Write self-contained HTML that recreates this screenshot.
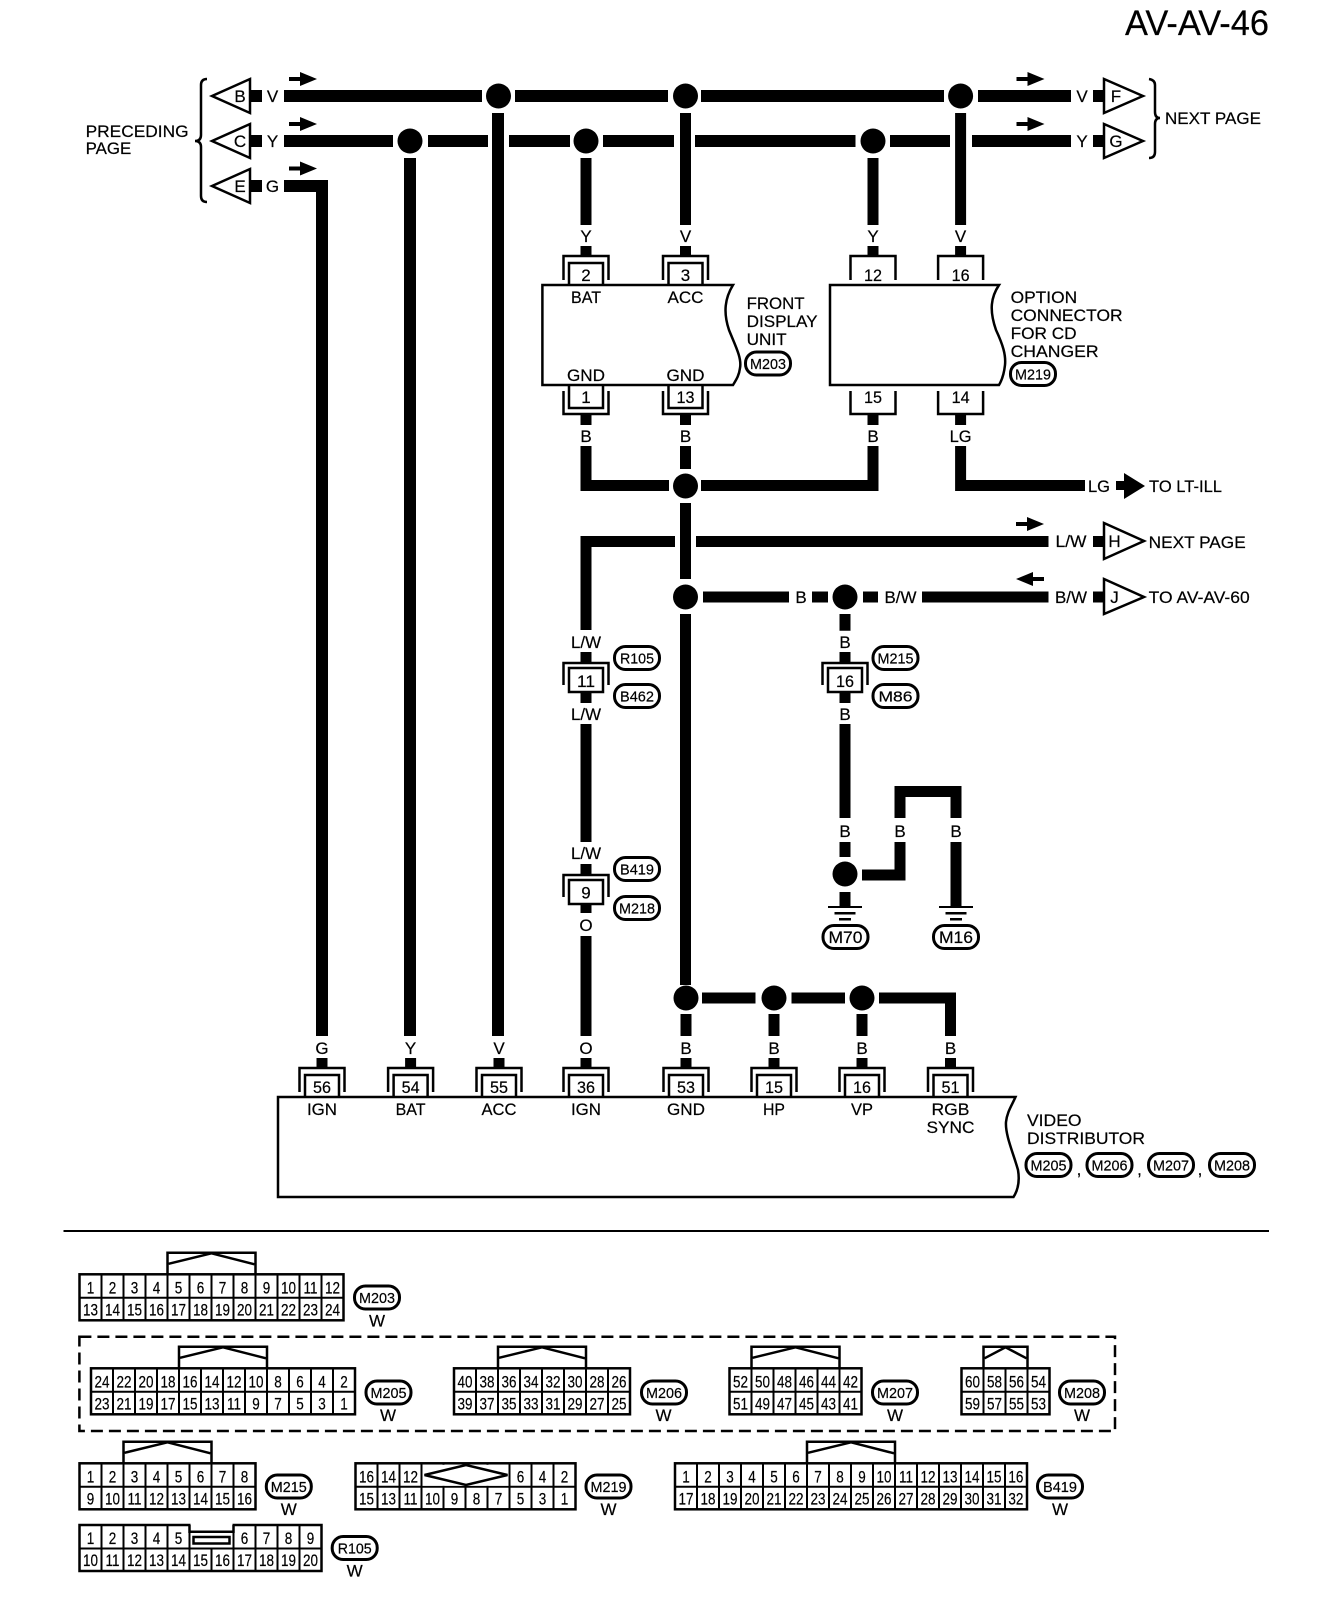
<!DOCTYPE html>
<html><head><meta charset="utf-8"><style>
html,body{margin:0;padding:0;background:#fff}
svg{display:block}
text{font-family:"Liberation Sans",sans-serif;font-size:17px;fill:#000;stroke:#000;stroke-width:.2}
.c{text-anchor:middle}
.n text{text-anchor:middle}
.p text{text-anchor:middle;font-size:15px}
.w{fill:none;stroke:#000;stroke-width:11}
.l{fill:none;stroke:#000;stroke-width:2.5}
.k{fill:#000;stroke:none}
.tri{fill:#fff;stroke:#000;stroke-width:2.5}
.box{fill:none;stroke:#000;stroke-width:2.5}
.pb{fill:none;stroke:#000;stroke-width:3}
.bars{stroke:#000;stroke-width:46;stroke-dasharray:2 20;stroke-dashoffset:1}
</style></head><body>
<svg width="1328" height="1612" viewBox="0 0 1328 1612" xmlns="http://www.w3.org/2000/svg">
<defs>
<g id="ct"><path class="l" d="M-22.5,24V0H22.5V24"/><path class="l" d="M-17,29V7H17V29"/></g>
<g id="cb"><path class="l" d="M-17,0V23H17V0"/><path class="l" d="M-22.5,6V29H22.5V6"/></g>
<g id="st"><path class="l" d="M-22.5,24V0H22.5V24"/></g>
<g id="sb"><path class="l" d="M-22.5,6V29H22.5V6"/></g>
<g id="ci"><path class="l" d="M-22.5,22V0H22.5V22"/><rect class="box" x="-17" y="5" width="34" height="24"/></g>
<g id="ar"><rect class="k" x="0" y="-2" width="14" height="4"/><polygon class="k" points="11,-7 28,0 11,7"/></g>
<g id="al"><rect class="k" x="14" y="-2" width="14" height="4"/><polygon class="k" points="17,-7 0,0 17,7"/></g>
<g id="gr"><rect class="k" x="-17" y="-1" width="34" height="2"/><rect class="k" x="-10.5" y="5" width="21" height="2.5"/><rect class="k" x="-6" y="11" width="12" height="2.5"/></g>
<g id="tab"><path class="l" d="M0,0V-21.6H88V0"/><path class="l" d="M1,-10.5L44,-21M44,-21L87,-10"/></g>
<g id="pil"><rect class="pb" x="-22.5" y="-11.5" width="45" height="23" rx="11" ry="11"/></g>
</defs>

<text x="1197" y="35" class="c" style="font-size:35px" textLength="144" lengthAdjust="spacingAndGlyphs">AV-AV-46</text>

<!-- left side -->
<text x="85.6" y="137" textLength="103" lengthAdjust="spacingAndGlyphs">PRECEDING</text>
<text x="85.6" y="154" textLength="45.6" lengthAdjust="spacingAndGlyphs">PAGE</text>
<path class="l" d="M207,79Q201,79 201,85V135Q201,141 195,141Q201,141 201,147V196Q201,202 207,202"/>
<polygon class="tri" points="212,96 250,79 250,113"/>
<polygon class="tri" points="212,141 250,124 250,158"/>
<polygon class="tri" points="212,186 250,169 250,203"/>
<text x="240" y="102" class="c">B</text><text x="240" y="147" class="c">C</text><text x="240" y="192" class="c">E</text>
<rect class="k" x="251" y="90" width="11" height="12"/><rect class="k" x="251" y="135" width="11" height="12"/><rect class="k" x="251" y="180" width="11" height="12"/>
<text x="272.5" y="102" class="c">V</text><text x="272.5" y="147" class="c">Y</text><text x="272.5" y="192" class="c">G</text>
<use href="#ar" x="289" y="79"/><use href="#ar" x="289" y="124"/><use href="#ar" x="289" y="168.5"/>

<!-- top rails -->
<g style="stroke:#000;stroke-width:12;fill:none">
<path d="M284,96H482M515,96H668M701,96H944M978,96H1071"/>
<path d="M284,141H393M428,141H488M509,141H570M603,141H674M695,141H855.5M890,141H950M972,141H1071"/>
<path d="M284,186H322V1036"/>
<path d="M410,158V1036"/>
<path d="M498,113V1036"/>
</g>
<g class="k">
<circle cx="498.5" cy="96" r="12.5"/><circle cx="685.5" cy="96" r="12.5"/><circle cx="960.6" cy="96" r="12.5"/>
<circle cx="410" cy="141" r="12.5"/><circle cx="586" cy="141" r="12.5"/><circle cx="873" cy="141" r="12.5"/>
<circle cx="685.5" cy="486" r="12.5"/><circle cx="685.5" cy="597" r="12.5"/><circle cx="845" cy="597" r="12.5"/><circle cx="845" cy="874" r="12.5"/>
<circle cx="686" cy="998" r="12.5"/><circle cx="774" cy="998" r="12.5"/><circle cx="862" cy="998" r="12.5"/>
</g>
<use href="#ar" x="1016.5" y="79"/><use href="#ar" x="1016.5" y="124"/>
<text x="1082" y="102" class="c">V</text><text x="1082" y="147" class="c">Y</text>
<rect class="k" x="1093" y="90" width="11" height="12"/><rect class="k" x="1093" y="135" width="11" height="12"/>
<polygon class="tri" points="1104,79 1143,96 1104,113"/><polygon class="tri" points="1104,124 1143,141 1104,158"/>
<text x="1116" y="102" class="c">F</text><text x="1116" y="147" class="c">G</text>
<path class="l" d="M1149,79Q1155,80 1155,85V112Q1155,118 1160,118Q1155,118 1155,124V152Q1155,158 1149,158"/>
<text x="1165" y="124" textLength="96" lengthAdjust="spacingAndGlyphs">NEXT PAGE</text>

<!-- drops to upper boxes -->
<path class="w" d="M586,158V225M586,246V256M685.5,113V225M685.5,246V256M873,158V225M873,246V256M960.6,113V225M960.6,246V256"/>
<text x="586" y="242" class="c">Y</text><text x="685.5" y="242" class="c">V</text><text x="873" y="242" class="c">Y</text><text x="960.6" y="242" class="c">V</text>
<use href="#ct" x="586" y="256"/><use href="#ct" x="685.5" y="256"/><use href="#st" x="873" y="256"/><use href="#st" x="960.6" y="256"/>
<text x="586" y="281" class="c">2</text><text x="685.5" y="281" class="c">3</text>
<text x="873" y="281" class="c" textLength="18" lengthAdjust="spacingAndGlyphs">12</text><text x="960.6" y="281" class="c" textLength="18" lengthAdjust="spacingAndGlyphs">16</text>

<path class="box" d="M733,285C725,298 723,312 729,330C735,345 742,358 740,368C739,376 736,380 733,385H542.4V285Z"/>
<path class="box" d="M999,285C991,297 989,310 996,330C1003,345 1006,355 1005,365C1004,374 1002,380 999,385H830V285Z"/>
<text x="586" y="303" class="c" textLength="30" lengthAdjust="spacingAndGlyphs">BAT</text>
<text x="685.5" y="303" class="c" textLength="36" lengthAdjust="spacingAndGlyphs">ACC</text>
<text x="586" y="381" class="c" textLength="38" lengthAdjust="spacingAndGlyphs">GND</text>
<text x="685.5" y="381" class="c" textLength="38" lengthAdjust="spacingAndGlyphs">GND</text>
<text x="746.6" y="309" textLength="58" lengthAdjust="spacingAndGlyphs">FRONT</text>
<text x="746.6" y="327" textLength="71" lengthAdjust="spacingAndGlyphs">DISPLAY</text>
<text x="746.6" y="345" textLength="40" lengthAdjust="spacingAndGlyphs">UNIT</text>
<text x="1010.6" y="303" textLength="66.5" lengthAdjust="spacingAndGlyphs">OPTION</text>
<text x="1010.6" y="321" textLength="112" lengthAdjust="spacingAndGlyphs">CONNECTOR</text>
<text x="1010.6" y="339" textLength="66" lengthAdjust="spacingAndGlyphs">FOR CD</text>
<text x="1010.6" y="357" textLength="88" lengthAdjust="spacingAndGlyphs">CHANGER</text>

<use href="#cb" x="586" y="385"/><use href="#cb" x="685.5" y="385"/><use href="#sb" x="873" y="385"/><use href="#sb" x="960.6" y="385"/>
<text x="586" y="403" class="c">1</text><text x="685.5" y="403" class="c" textLength="18" lengthAdjust="spacingAndGlyphs">13</text>
<text x="873" y="403" class="c" textLength="18" lengthAdjust="spacingAndGlyphs">15</text><text x="960.6" y="403" class="c" textLength="18" lengthAdjust="spacingAndGlyphs">14</text>
<path class="w" d="M586,414V425M685.5,414V425M873,414V425M960.6,414V425"/>
<text x="586" y="442" class="c">B</text><text x="685.5" y="442" class="c">B</text><text x="873" y="442" class="c">B</text><text x="960.6" y="442" class="c" textLength="22" lengthAdjust="spacingAndGlyphs">LG</text>
<path class="w" d="M586,446V485.5H669M701,485.5H873V446M685.5,446V469M960.6,446V485.5H1085"/>
<text x="1088" y="492" textLength="22" lengthAdjust="spacingAndGlyphs">LG</text>
<rect class="k" x="1116" y="481" width="10" height="9"/><polygon class="k" points="1124,473 1145,486 1124,499"/>
<text x="1149" y="492" textLength="73" lengthAdjust="spacingAndGlyphs">TO LT-ILL</text>

<!-- middle -->
<path class="w" d="M675,541.5H586V630M696,541.5H1048.5M685.5,503V579M685.5,614V980"/>
<use href="#ar" x="1016" y="524"/><use href="#al" x="1016" y="579"/>
<text x="1071" y="547" class="c" textLength="31" lengthAdjust="spacingAndGlyphs">L/W</text>
<rect class="k" x="1093" y="536" width="11" height="11"/>
<polygon class="tri" points="1104,523 1144,541 1104,559"/>
<text x="1114.5" y="547" class="c">H</text>
<text x="1148.7" y="548" textLength="97" lengthAdjust="spacingAndGlyphs">NEXT PAGE</text>

<path class="w" d="M703,597H789M812,597H828M863,597H878M922,597H1048.5"/>
<text x="801" y="603" class="c">B</text>
<text x="900.5" y="603" class="c" textLength="32" lengthAdjust="spacingAndGlyphs">B/W</text>
<text x="1071" y="603" class="c" textLength="32" lengthAdjust="spacingAndGlyphs">B/W</text>
<rect class="k" x="1093" y="591.5" width="11" height="11"/>
<polygon class="tri" points="1104,579 1144,597 1104,614"/>
<text x="1114.5" y="603" class="c">J</text>
<text x="1148.7" y="603" textLength="101" lengthAdjust="spacingAndGlyphs">TO AV-AV-60</text>

<!-- L/W branch -->
<text x="586" y="648" class="c" textLength="30" lengthAdjust="spacingAndGlyphs">L/W</text>
<path class="w" d="M586,652V663M586,692V703M586,724V842M586,864V875M586,903V913M586,936V1036"/>
<use href="#ci" x="586" y="663"/>
<text x="586" y="687" class="c" textLength="18" lengthAdjust="spacingAndGlyphs">11</text>
<text x="586" y="720" class="c" textLength="30" lengthAdjust="spacingAndGlyphs">L/W</text>
<text x="586" y="859" class="c" textLength="30" lengthAdjust="spacingAndGlyphs">L/W</text>
<use href="#ci" x="586" y="875"/>
<text x="586" y="898.5" class="c">9</text>
<text x="586" y="931" class="c">O</text>

<!-- B branch -->
<path class="w" d="M845,614V630.7M845,652V663M845,692V703M845,724V818M845,842V857M845,892V907"/>
<text x="845" y="648" class="c">B</text>
<use href="#ci" x="845" y="663"/>
<text x="845" y="687" class="c" textLength="18" lengthAdjust="spacingAndGlyphs">16</text>
<text x="845" y="720" class="c">B</text>
<text x="845" y="837" class="c">B</text>
<path class="w" d="M862,875H900V842M900,818V791.5H956V818M956,842V907"/>
<text x="900" y="837" class="c">B</text><text x="956" y="837" class="c">B</text>
<use href="#gr" x="845" y="907"/><use href="#gr" x="956" y="907"/>

<!-- pills -->
<g class="p">
<use href="#pil" x="768" y="363.5"/><text x="768" y="369" textLength="36" lengthAdjust="spacingAndGlyphs">M203</text>
<use href="#pil" x="1033" y="374"/><text x="1033" y="379.5" textLength="36" lengthAdjust="spacingAndGlyphs">M219</text>
<use href="#pil" x="637" y="658"/><text x="637" y="663.5" textLength="34" lengthAdjust="spacingAndGlyphs">R105</text>
<use href="#pil" x="637" y="696"/><text x="637" y="701.5" textLength="34" lengthAdjust="spacingAndGlyphs">B462</text>
<use href="#pil" x="637" y="869"/><text x="637" y="874.5" textLength="34" lengthAdjust="spacingAndGlyphs">B419</text>
<use href="#pil" x="637" y="908"/><text x="637" y="913.5" textLength="36" lengthAdjust="spacingAndGlyphs">M218</text>
<use href="#pil" x="895.5" y="658"/><text x="895.5" y="663.5" textLength="36" lengthAdjust="spacingAndGlyphs">M215</text>
<use href="#pil" x="895.5" y="696"/><text x="895.5" y="701.5" textLength="34" lengthAdjust="spacingAndGlyphs">M86</text>
<use href="#pil" x="845.5" y="937"/><text x="845.5" y="943" style="font-size:17px" textLength="34" lengthAdjust="spacingAndGlyphs">M70</text>
<use href="#pil" x="956" y="937"/><text x="956" y="943" style="font-size:17px" textLength="34" lengthAdjust="spacingAndGlyphs">M16</text>
<use href="#pil" x="1048.5" y="1165"/><text x="1048.5" y="1170.5" textLength="36" lengthAdjust="spacingAndGlyphs">M205</text>
<use href="#pil" x="1109.5" y="1165"/><text x="1109.5" y="1170.5" textLength="36" lengthAdjust="spacingAndGlyphs">M206</text>
<use href="#pil" x="1171" y="1165"/><text x="1171" y="1170.5" textLength="36" lengthAdjust="spacingAndGlyphs">M207</text>
<use href="#pil" x="1232" y="1165"/><text x="1232" y="1170.5" textLength="36" lengthAdjust="spacingAndGlyphs">M208</text>
<use href="#pil" x="377" y="1297.5"/><text x="377" y="1303" textLength="36" lengthAdjust="spacingAndGlyphs">M203</text>
<use href="#pil" x="388.5" y="1392.5"/><text x="388.5" y="1398" textLength="36" lengthAdjust="spacingAndGlyphs">M205</text>
<use href="#pil" x="664" y="1392.5"/><text x="664" y="1398" textLength="36" lengthAdjust="spacingAndGlyphs">M206</text>
<use href="#pil" x="895" y="1392.5"/><text x="895" y="1398" textLength="36" lengthAdjust="spacingAndGlyphs">M207</text>
<use href="#pil" x="1082" y="1392.5"/><text x="1082" y="1398" textLength="36" lengthAdjust="spacingAndGlyphs">M208</text>
<use href="#pil" x="288.8" y="1486.5"/><text x="288.8" y="1492" textLength="36" lengthAdjust="spacingAndGlyphs">M215</text>
<use href="#pil" x="608.5" y="1486.5"/><text x="608.5" y="1492" textLength="36" lengthAdjust="spacingAndGlyphs">M219</text>
<use href="#pil" x="1060" y="1486.5"/><text x="1060" y="1492" textLength="34" lengthAdjust="spacingAndGlyphs">B419</text>
<use href="#pil" x="354.7" y="1548"/><text x="354.7" y="1553.5" textLength="34" lengthAdjust="spacingAndGlyphs">R105</text>
</g>
<text x="1079" y="1175" class="c">,</text><text x="1139.5" y="1175" class="c">,</text><text x="1200" y="1175" class="c">,</text>

<!-- ground bus -->
<path class="w" d="M685.5,980V985"/>
<path class="w" d="M702,998H755.5M791.5,998H845M879,998H950.5V1036"/>
<path class="w" d="M686,1014V1036M774,1014V1036M862,1014V1036"/>
<text x="322" y="1054" class="c">G</text><text x="410.6" y="1054" class="c">Y</text><text x="499" y="1054" class="c">V</text><text x="586" y="1054" class="c">O</text>
<text x="686" y="1054" class="c">B</text><text x="774" y="1054" class="c">B</text><text x="862" y="1054" class="c">B</text><text x="950.5" y="1054" class="c">B</text>
<path class="w" d="M322,1058V1068M410.6,1058V1068M499,1058V1068M586,1058V1068M686,1058V1068M774,1058V1068M862,1058V1068M950.5,1058V1068"/>
<use href="#ct" x="322" y="1068"/><use href="#ct" x="410.6" y="1068"/><use href="#ct" x="499" y="1068"/><use href="#ct" x="586" y="1068"/>
<use href="#ct" x="686" y="1068"/><use href="#ct" x="774" y="1068"/><use href="#ct" x="862" y="1068"/><use href="#ct" x="950.5" y="1068"/>
<text x="322" y="1093" class="c" textLength="18" lengthAdjust="spacingAndGlyphs">56</text>
<text x="410.6" y="1093" class="c" textLength="18" lengthAdjust="spacingAndGlyphs">54</text>
<text x="499" y="1093" class="c" textLength="18" lengthAdjust="spacingAndGlyphs">55</text>
<text x="586" y="1093" class="c" textLength="18" lengthAdjust="spacingAndGlyphs">36</text>
<text x="686" y="1093" class="c" textLength="18" lengthAdjust="spacingAndGlyphs">53</text>
<text x="774" y="1093" class="c" textLength="18" lengthAdjust="spacingAndGlyphs">15</text>
<text x="862" y="1093" class="c" textLength="18" lengthAdjust="spacingAndGlyphs">16</text>
<text x="950.5" y="1093" class="c" textLength="18" lengthAdjust="spacingAndGlyphs">51</text>
<path class="box" d="M1015.5,1097H278V1197H1013.5C1018,1190 1020,1182 1018,1170C1014,1155 1005,1135 1006,1122C1007,1112 1012,1105 1015.5,1097Z"/>
<text x="322" y="1115" class="c" textLength="30" lengthAdjust="spacingAndGlyphs">IGN</text>
<text x="410.6" y="1115" class="c" textLength="30" lengthAdjust="spacingAndGlyphs">BAT</text>
<text x="499" y="1115" class="c" textLength="35" lengthAdjust="spacingAndGlyphs">ACC</text>
<text x="586" y="1115" class="c" textLength="30" lengthAdjust="spacingAndGlyphs">IGN</text>
<text x="686" y="1115" class="c" textLength="38" lengthAdjust="spacingAndGlyphs">GND</text>
<text x="774" y="1115" class="c" textLength="22" lengthAdjust="spacingAndGlyphs">HP</text>
<text x="862" y="1115" class="c" textLength="22" lengthAdjust="spacingAndGlyphs">VP</text>
<text x="950.5" y="1115" class="c" textLength="38" lengthAdjust="spacingAndGlyphs">RGB</text>
<text x="950.5" y="1133" class="c" textLength="48" lengthAdjust="spacingAndGlyphs">SYNC</text>
<text x="1027" y="1126" textLength="54.5" lengthAdjust="spacingAndGlyphs">VIDEO</text>
<text x="1027" y="1144" textLength="118" lengthAdjust="spacingAndGlyphs">DISTRIBUTOR</text>

<rect class="k" x="63.5" y="1230" width="1205.5" height="2"/>

<!-- connector diagrams -->
<g transform="translate(79.5,1274.3)">
<line class="bars" x1="0" x2="264" y1="23" y2="23"/><rect class="box" width="264" height="46"/>
<line x1="0" x2="264" y1="23.5" y2="23.5" stroke="#000" stroke-width="2"/>
<use href="#tab" x="88"/>
<g class="n" transform="scale(.794,1)">
<text x="13.9" y="19">1</text><text x="41.6" y="19">2</text><text x="69.3" y="19">3</text><text x="97" y="19">4</text><text x="124.7" y="19">5</text><text x="152.4" y="19">6</text><text x="180.1" y="19">7</text><text x="207.8" y="19">8</text><text x="235.5" y="19">9</text><text x="263.2" y="19">10</text><text x="290.9" y="19">11</text><text x="318.6" y="19">12</text>
<text x="13.9" y="41">13</text><text x="41.6" y="41">14</text><text x="69.3" y="41">15</text><text x="97" y="41">16</text><text x="124.7" y="41">17</text><text x="152.4" y="41">18</text><text x="180.1" y="41">19</text><text x="207.8" y="41">20</text><text x="235.5" y="41">21</text><text x="263.2" y="41">22</text><text x="290.9" y="41">23</text><text x="318.6" y="41">24</text>
</g></g>
<text x="377" y="1326.7" class="c">W</text>

<rect x="79.4" y="1336.7" width="1035.6" height="94.3" fill="none" stroke="#000" stroke-width="2.5" stroke-dasharray="12 6"/>

<g transform="translate(91,1368.3)">
<line class="bars" x1="0" x2="264" y1="23" y2="23"/><rect class="box" width="264" height="46"/>
<line x1="0" x2="264" y1="23.5" y2="23.5" stroke="#000" stroke-width="2"/>
<use href="#tab" x="88"/>
<g class="n" transform="scale(.794,1)">
<text x="13.9" y="19">24</text><text x="41.6" y="19">22</text><text x="69.3" y="19">20</text><text x="97" y="19">18</text><text x="124.7" y="19">16</text><text x="152.4" y="19">14</text><text x="180.1" y="19">12</text><text x="207.8" y="19">10</text><text x="235.5" y="19">8</text><text x="263.2" y="19">6</text><text x="290.9" y="19">4</text><text x="318.6" y="19">2</text>
<text x="13.9" y="41">23</text><text x="41.6" y="41">21</text><text x="69.3" y="41">19</text><text x="97" y="41">17</text><text x="124.7" y="41">15</text><text x="152.4" y="41">13</text><text x="180.1" y="41">11</text><text x="207.8" y="41">9</text><text x="235.5" y="41">7</text><text x="263.2" y="41">5</text><text x="290.9" y="41">3</text><text x="318.6" y="41">1</text>
</g></g>
<text x="388" y="1421" class="c">W</text>

<g transform="translate(454,1368.3)">
<line class="bars" x1="0" x2="176" y1="23" y2="23"/><rect class="box" width="176" height="46"/>
<line x1="0" x2="176" y1="23.5" y2="23.5" stroke="#000" stroke-width="2"/>
<use href="#tab" x="44"/>
<g class="n" transform="scale(.794,1)">
<text x="13.9" y="19">40</text><text x="41.6" y="19">38</text><text x="69.3" y="19">36</text><text x="97" y="19">34</text><text x="124.7" y="19">32</text><text x="152.4" y="19">30</text><text x="180.1" y="19">28</text><text x="207.8" y="19">26</text>
<text x="13.9" y="41">39</text><text x="41.6" y="41">37</text><text x="69.3" y="41">35</text><text x="97" y="41">33</text><text x="124.7" y="41">31</text><text x="152.4" y="41">29</text><text x="180.1" y="41">27</text><text x="207.8" y="41">25</text>
</g></g>
<text x="663.5" y="1421" class="c">W</text>

<g transform="translate(729.5,1368.3)">
<line class="bars" x1="0" x2="132" y1="23" y2="23"/><rect class="box" width="132" height="46"/>
<line x1="0" x2="132" y1="23.5" y2="23.5" stroke="#000" stroke-width="2"/>
<use href="#tab" x="22"/>
<g class="n" transform="scale(.794,1)">
<text x="13.9" y="19">52</text><text x="41.6" y="19">50</text><text x="69.3" y="19">48</text><text x="97" y="19">46</text><text x="124.7" y="19">44</text><text x="152.4" y="19">42</text>
<text x="13.9" y="41">51</text><text x="41.6" y="41">49</text><text x="69.3" y="41">47</text><text x="97" y="41">45</text><text x="124.7" y="41">43</text><text x="152.4" y="41">41</text>
</g></g>
<text x="895" y="1421" class="c">W</text>

<g transform="translate(961.5,1368.3)">
<line class="bars" x1="0" x2="88" y1="23" y2="23"/><rect class="box" width="88" height="46"/>
<line x1="0" x2="88" y1="23.5" y2="23.5" stroke="#000" stroke-width="2"/>
<path class="l" d="M22,0V-21.6H66V0"/><path class="l" d="M23,-10L44,-21L65,-10"/>
<g class="n" transform="scale(.794,1)">
<text x="13.9" y="19">60</text><text x="41.6" y="19">58</text><text x="69.3" y="19">56</text><text x="97" y="19">54</text>
<text x="13.9" y="41">59</text><text x="41.6" y="41">57</text><text x="69.3" y="41">55</text><text x="97" y="41">53</text>
</g></g>
<text x="1082" y="1421" class="c">W</text>

<g transform="translate(79.5,1463.3)">
<line class="bars" x1="0" x2="176" y1="23" y2="23"/><rect class="box" width="176" height="46"/>
<line x1="0" x2="176" y1="23.5" y2="23.5" stroke="#000" stroke-width="2"/>
<use href="#tab" x="44"/>
<g class="n" transform="scale(.794,1)">
<text x="13.9" y="19">1</text><text x="41.6" y="19">2</text><text x="69.3" y="19">3</text><text x="97" y="19">4</text><text x="124.7" y="19">5</text><text x="152.4" y="19">6</text><text x="180.1" y="19">7</text><text x="207.8" y="19">8</text>
<text x="13.9" y="41">9</text><text x="41.6" y="41">10</text><text x="69.3" y="41">11</text><text x="97" y="41">12</text><text x="124.7" y="41">13</text><text x="152.4" y="41">14</text><text x="180.1" y="41">15</text><text x="207.8" y="41">16</text>
</g></g>
<text x="288.8" y="1515" class="c">W</text>

<g transform="translate(355.5,1463.3)">
<line class="bars" x1="0" x2="220" y1="23" y2="23"/><rect class="box" width="220" height="46"/>
<line x1="0" x2="220" y1="23.5" y2="23.5" stroke="#000" stroke-width="2"/>
<rect x="67" y="1.5" width="86" height="21" fill="#fff"/>
<polygon points="69,11.7 110.5,1.7 152,11.7 110.5,21.7" fill="#fff" stroke="#000" stroke-width="2.5"/>
<g class="n" transform="scale(.794,1)">
<text x="13.9" y="19">16</text><text x="41.6" y="19">14</text><text x="69.3" y="19">12</text><text x="207.8" y="19">6</text><text x="235.5" y="19">4</text><text x="263.2" y="19">2</text>
<text x="13.9" y="41">15</text><text x="41.6" y="41">13</text><text x="69.3" y="41">11</text><text x="97" y="41">10</text><text x="124.7" y="41">9</text><text x="152.4" y="41">8</text><text x="180.1" y="41">7</text><text x="207.8" y="41">5</text><text x="235.5" y="41">3</text><text x="263.2" y="41">1</text>
</g></g>
<text x="608.5" y="1515" class="c">W</text>

<g transform="translate(675,1463.3)">
<line class="bars" x1="0" x2="352" y1="23" y2="23"/><rect class="box" width="352" height="46"/>
<line x1="0" x2="352" y1="23.5" y2="23.5" stroke="#000" stroke-width="2"/>
<use href="#tab" x="132"/>
<g class="n" transform="scale(.794,1)">
<text x="13.9" y="19">1</text><text x="41.6" y="19">2</text><text x="69.3" y="19">3</text><text x="97" y="19">4</text><text x="124.7" y="19">5</text><text x="152.4" y="19">6</text><text x="180.1" y="19">7</text><text x="207.8" y="19">8</text><text x="235.5" y="19">9</text><text x="263.2" y="19">10</text><text x="290.9" y="19">11</text><text x="318.6" y="19">12</text><text x="346.3" y="19">13</text><text x="374" y="19">14</text><text x="401.7" y="19">15</text><text x="429.4" y="19">16</text>
<text x="13.9" y="41">17</text><text x="41.6" y="41">18</text><text x="69.3" y="41">19</text><text x="97" y="41">20</text><text x="124.7" y="41">21</text><text x="152.4" y="41">22</text><text x="180.1" y="41">23</text><text x="207.8" y="41">24</text><text x="235.5" y="41">25</text><text x="263.2" y="41">26</text><text x="290.9" y="41">27</text><text x="318.6" y="41">28</text><text x="346.3" y="41">29</text><text x="374" y="41">30</text><text x="401.7" y="41">31</text><text x="429.4" y="41">32</text>
</g></g>
<text x="1060" y="1515" class="c">W</text>

<g transform="translate(79.5,1525)">
<line class="bars" x1="0" x2="242" y1="23" y2="23"/><rect class="box" width="242" height="46"/>
<line x1="0" x2="242" y1="23.5" y2="23.5" stroke="#000" stroke-width="2"/>
<rect x="111" y="-2" width="42" height="24.5" fill="#fff"/>
<path class="l" d="M110,0V6.7H154V0"/>
<rect x="114" y="12" width="36" height="6.5" fill="none" stroke="#000" stroke-width="2.5"/>
<g class="n" transform="scale(.794,1)">
<text x="13.9" y="19">1</text><text x="41.6" y="19">2</text><text x="69.3" y="19">3</text><text x="97" y="19">4</text><text x="124.7" y="19">5</text><text x="207.8" y="19">6</text><text x="235.5" y="19">7</text><text x="263.2" y="19">8</text><text x="290.9" y="19">9</text>
<text x="13.9" y="41">10</text><text x="41.6" y="41">11</text><text x="69.3" y="41">12</text><text x="97" y="41">13</text><text x="124.7" y="41">14</text><text x="152.4" y="41">15</text><text x="180.1" y="41">16</text><text x="207.8" y="41">17</text><text x="235.5" y="41">18</text><text x="263.2" y="41">19</text><text x="290.9" y="41">20</text>
</g></g>
<text x="354.7" y="1576.7" class="c">W</text>
</svg>
</body></html>
